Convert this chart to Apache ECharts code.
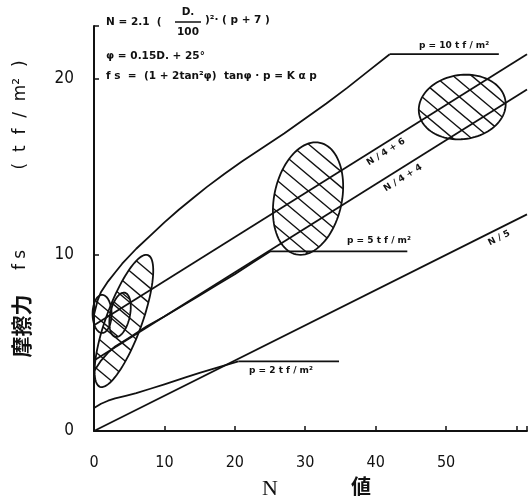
<!DOCTYPE html>
<html><head><meta charset="utf-8">
<script src="https://cdn.jsdelivr.net/npm/echarts@6/dist/echarts.min.js"></script>
<style>html,body{margin:0;padding:0;background:#fff}#c{width:530px;height:503px}</style>
</head><body><div id="c"></div>
<script>
// ---- data ----
const xTickStep = 10;
const yTickStep = 10;
// p = 10 tf/m2 curve and its cap
const p10N  = [0, 0.5, 1, 2, 3, 4, 6, 8, 10, 12, 14, 16, 18.5, 21, 24, 27, 30, 33, 36, 39, 42];
const p10Fs = [6.6, 7.4, 7.9, 8.5, 9.0, 9.5, 10.35, 11.1, 11.85, 12.55, 13.2, 13.85, 14.6, 15.3, 16.1, 16.9, 17.75, 18.6, 19.5, 20.45, 21.4];
const p10CapN  = [42, 57.5];
const p10CapFs = [21.4, 21.4];
// p = 5 tf/m2 curve and its cap
const p5N  = [0, 1, 2, 3, 5, 7.5, 10, 12.5, 15, 17.5, 20, 22.5, 25];
const p5Fs = [3.4, 4.0, 4.45, 4.8, 5.3, 5.95, 6.5, 7.1, 7.7, 8.3, 8.9, 9.55, 10.2];
const p5CapN  = [25, 44.5];
const p5CapFs = [10.2, 10.2];
// p = 2 tf/m2 curve and its cap
const p2N  = [0, 1, 2, 3, 4.5, 6, 8, 10, 13, 15, 17.5, 20.5];
const p2Fs = [1.3, 1.55, 1.72, 1.85, 2.0, 2.15, 2.4, 2.65, 3.05, 3.3, 3.6, 3.95];
const p2CapN  = [20.5, 34.8];
const p2CapFs = [3.95, 3.95];
// straight lines
const lineN4p6N = [0, 61.5], lineN4p6Fs = [6, 21.4];
const lineN4p4N = [0, 61.5], lineN4p4Fs = [4, 19.4];
const lineN5N   = [0, 61.5], lineN5Fs   = [0, 12.3];
// measured data clusters (hatched ellipses): centre, half spread, tilt (deg)
const clusterN       = [1.15, 3.7, 4.25, 30.4, 52.3];
const clusterFs      = [6.65, 6.6, 6.25, 13.2, 18.4];
const clusterSpreadN = [1.35, 1.4, 2.55, 4.8, 6.2];
const clusterSpreadF = [1.08, 1.28, 3.98, 3.24, 1.82];
const clusterTilt    = [0, 12, 20, 12, -8];

// ---- chart ----
const chart = echarts.init(document.getElementById('c'));
const INK = '#111';
function pairs(xs, ys){ return xs.map((x,i)=>[x, ys[i]]); }
function lineSeries(xs, ys){
  return {type:'line', data:pairs(xs,ys), symbol:'none', smooth:false,
    lineStyle:{color:INK, width:1.8, join:'round'}, silent:true, clip:false, z:3};
}

function renderCluster(params, api){
  const c = api.coord([api.value(0), api.value(1)]);
  const s = api.size([api.value(2), api.value(3)]);
  const rx = s[0], ry = s[1];
  const th = api.value(4)*Math.PI/180;
  const ct = Math.cos(th), st = Math.sin(th);
  const pts = [];
  for (let i=0;i<96;i++){
    const t = i/96*2*Math.PI;
    const ex = rx*Math.cos(t), ey = ry*Math.sin(t);
    pts.push([c[0]+ex*ct-ey*st, c[1]+ex*st+ey*ct]);
  }
  const children = [{type:'polygon', shape:{points:pts},
    style:{fill:'none', stroke:INK, lineWidth:1.8}}];
  const phi = 40*Math.PI/180, gap = 12;
  const d = [Math.cos(phi), Math.sin(phi)], n = [-Math.sin(phi), Math.cos(phi)];
  const rot = v => [v[0]*ct+v[1]*st, -v[0]*st+v[1]*ct];
  const dl = rot(d), nl = rot(n);
  const K = Math.ceil(Math.max(rx,ry)/gap);
  for (let k=-K;k<=K;k++){
    const o = k*gap + gap/2;
    const A = dl[0]*dl[0]/(rx*rx) + dl[1]*dl[1]/(ry*ry);
    const Bq = 2*(o*nl[0]*dl[0]/(rx*rx) + o*nl[1]*dl[1]/(ry*ry));
    const C = (o*nl[0])*(o*nl[0])/(rx*rx) + (o*nl[1])*(o*nl[1])/(ry*ry) - 1;
    const disc = Bq*Bq-4*A*C;
    if (disc <= 0) continue;
    const t1 = (-Bq-Math.sqrt(disc))/(2*A), t2 = (-Bq+Math.sqrt(disc))/(2*A);
    children.push({type:'line', shape:{
      x1:c[0]+o*n[0]+t1*d[0], y1:c[1]+o*n[1]+t1*d[1],
      x2:c[0]+o*n[0]+t2*d[0], y2:c[1]+o*n[1]+t2*d[1]},
      style:{stroke:INK, lineWidth:1.4}});
  }
  return {type:'group', children};
}

const clusterData = clusterN.map((x,i)=>[x, clusterFs[i], clusterSpreadN[i], clusterSpreadF[i], clusterTilt[i]]);

const F = '"DejaVu Sans", sans-serif';
function txt(x, y, text, font){
  return {type:'text', x, y, z:10, style:{text, font, fill:INK, align:'left', verticalAlign:'middle'}};
}
function rtxt(x, y, text, font, deg){
  return {type:'text', x, y, rotation:deg*Math.PI/180, z:10,
    style:{text, font, fill:INK, align:'center', verticalAlign:'middle'}};
}

const smallB = 'bold 9px ' + F;
const formB = 'bold 10.5px ' + F;

chart.setOption({
  animation:false,
  backgroundColor:'#fff',
  grid:{left:94, right:1, top:26, bottom:72, containLabel:false},
  xAxis:{type:'value', min:0, max:61.5, interval:xTickStep,
    axisLine:{show:true, onZero:false, lineStyle:{color:INK, width:2}},
    axisTick:{show:true, inside:true, length:5, lineStyle:{color:INK, width:1.5}},
    axisLabel:{color:INK, fontSize:16, fontFamily:'"Liberation Sans Narrow","DejaVu Sans Condensed",sans-serif',
      margin:24, formatter:v=> v>=60 ? '' : String(v)},
    splitLine:{show:false}},
  yAxis:{type:'value', min:0, max:23, interval:yTickStep,
    axisLine:{show:true, onZero:false, lineStyle:{color:INK, width:2}},
    axisTick:{show:true, inside:true, length:5, lineStyle:{color:INK, width:1.5}},
    axisLabel:{color:INK, fontSize:17, fontFamily:'"Liberation Sans Narrow","DejaVu Sans Condensed",sans-serif',
      margin:20, formatter:v=> v>22 ? '' : String(v)},
    splitLine:{show:false}},
  series:[
    lineSeries(p10N, p10Fs), lineSeries(p10CapN, p10CapFs),
    lineSeries(p5N, p5Fs), lineSeries(p5CapN, p5CapFs),
    lineSeries(p2N, p2Fs), lineSeries(p2CapN, p2CapFs),
    lineSeries(lineN4p6N, lineN4p6Fs),
    lineSeries(lineN4p4N, lineN4p4Fs),
    lineSeries(lineN5N, lineN5Fs),
    {type:'custom', data:clusterData, renderItem:renderCluster, silent:true, clip:false, z:4,
      encode:{x:0, y:1}}
  ],
  graphic:[
    // formula block
    txt(106, 22, 'N = 2.1  (', formB),
    {type:'text', x:188, y:12, z:10, style:{text:'D.', font:formB, fill:INK, align:'center', verticalAlign:'middle'}},
    {type:'line', z:10, shape:{x1:175, y1:22, x2:201, y2:22}, style:{stroke:INK, lineWidth:1.5}},
    {type:'text', x:188, y:32, z:10, style:{text:'100', font:formB, fill:INK, align:'center', verticalAlign:'middle'}},
    txt(205, 20, ')²· ( p + 7 )', formB),
    txt(106, 56, 'φ = 0.15D. + 25°', formB),
    txt(106, 76, 'f s  =  (1 + 2tan²φ)  tanφ · p = K α p', formB),
    // line labels
    txt(419, 46, 'p = 10 t f / m²', smallB),
    txt(347, 241, 'p = 5 t f / m²', smallB),
    txt(249, 371, 'p = 2 t f / m²', smallB),
    rtxt(386, 152, 'N / 4 + 6', smallB, 32),
    rtxt(403, 178, 'N / 4 + 4', smallB, 32),
    rtxt(499, 238, 'N / 5', smallB, 27),
    // axis names
    {type:'text', x:270, y:489, z:10, style:{text:'N', font:'22px "Liberation Serif", serif', fill:INK, align:'center', verticalAlign:'middle'}},
    {type:'text', x:361, y:486, z:10, style:{text:'値', font:'bold 20px "Noto Sans CJK JP", sans-serif', fill:INK, align:'center', verticalAlign:'middle'}},
    rtxt(21, 326, '摩擦力', 'bold 21px "Noto Sans CJK JP", sans-serif', 90),
    rtxt(21, 260, 'f s', '17px "DejaVu Sans", sans-serif', 90),
    rtxt(21, 115, '(  t  f  /  m²  )', '17px "DejaVu Sans", sans-serif', 90)
  ]
});
</script></body></html>
